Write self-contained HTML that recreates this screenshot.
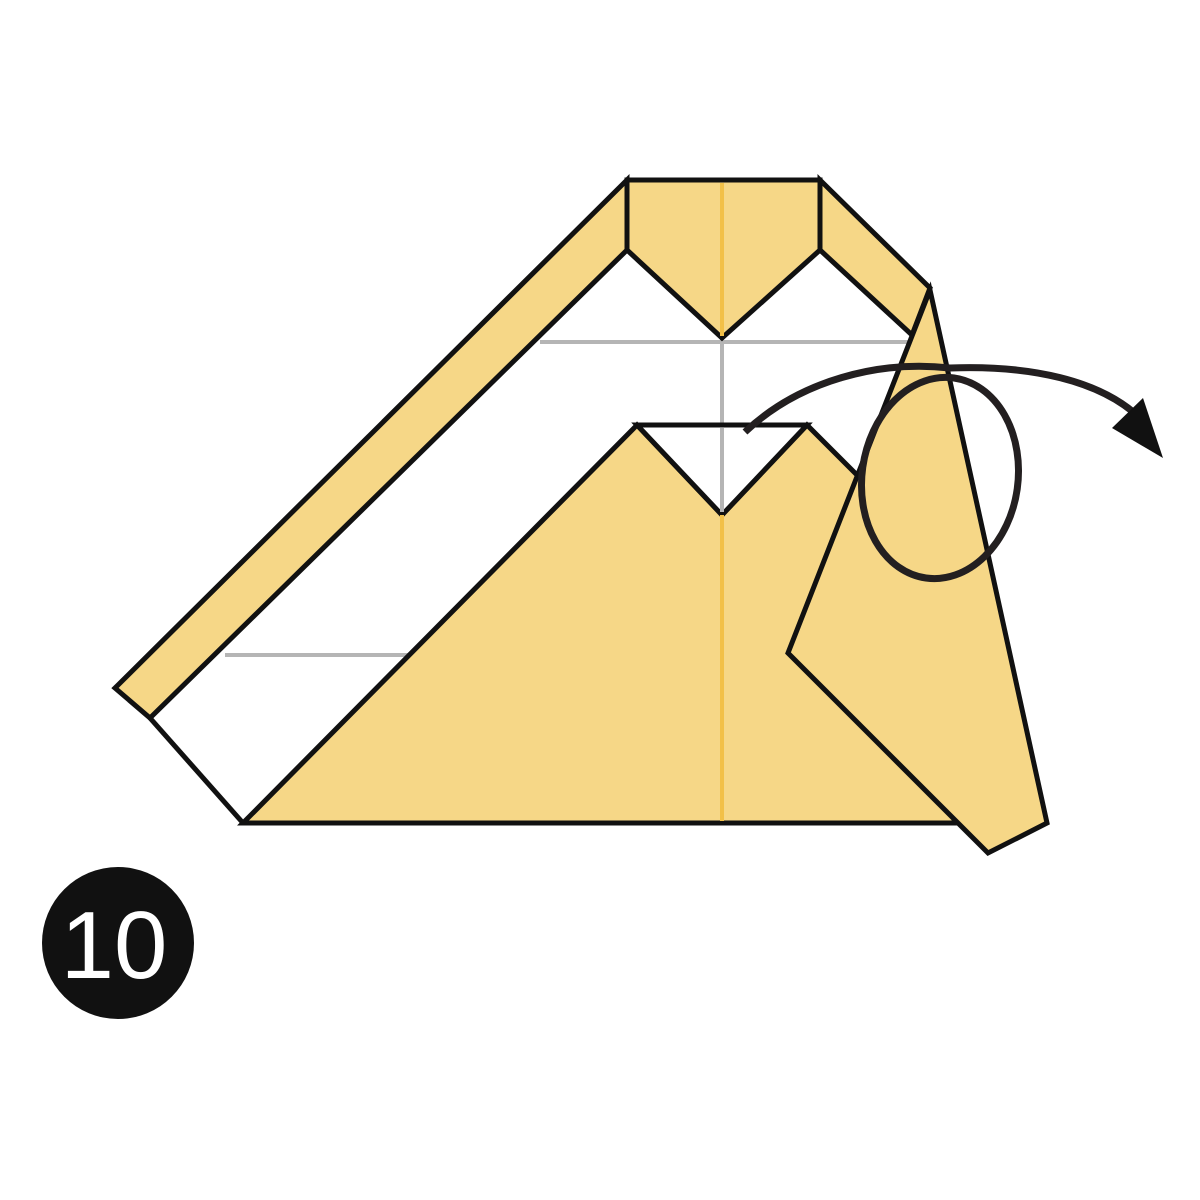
<!DOCTYPE html>
<html>
<head>
<meta charset="utf-8">
<style>
html,body{margin:0;padding:0;background:#fff;width:1200px;height:1200px;overflow:hidden}
svg{display:block}
</style>
</head>
<body>
<svg width="1200" height="1200" viewBox="0 0 1200 1200">
  <!-- white paper region between strip and triangle -->
  <polygon points="150,718 627,250 722,338 820,250 912,335 860,478 807,425 637,425 243,823" fill="#fff"/>
  <!-- gray crease lines -->
  <line x1="540" y1="342" x2="910" y2="342" stroke="#b5b5b5" stroke-width="4"/>
  <line x1="225" y1="655" x2="412" y2="655" stroke="#b5b5b5" stroke-width="4"/>
  <line x1="722" y1="338" x2="722" y2="425" stroke="#b5b5b5" stroke-width="4"/>
  <!-- left strip -->
  <polygon points="115,688 627,180 627,250 150,718" fill="#f6d787" stroke="#111" stroke-width="5" stroke-linejoin="miter"/>
  <!-- top center piece -->
  <polygon points="627,180 820,180 820,250 722,338 627,250" fill="#f6d787" stroke="#111" stroke-width="5"/>
  <line x1="722" y1="183" x2="722" y2="336" stroke="#f2c048" stroke-width="4"/>
  <!-- right strip -->
  <polygon points="820,180 930,288 912,335 820,250" fill="#f6d787" stroke="#111" stroke-width="5"/>
  <!-- bottom white edge -->
  <line x1="150" y1="718" x2="243" y2="823" stroke="#111" stroke-width="5"/>
  <!-- big triangle -->
  <polygon points="243,823 637,425 722,515 807,425 870,488 955,823" fill="#f6d787" stroke="#111" stroke-width="5"/>
  <polygon points="637,425 807,425 722,515" fill="#fff" stroke="#111" stroke-width="5"/>
  <line x1="722" y1="515" x2="722" y2="821" stroke="#f2c048" stroke-width="4"/>
  <line x1="722" y1="428" x2="722" y2="512" stroke="#b5b5b5" stroke-width="4"/>
  <!-- right flap -->
  <polygon points="930,290 1047,823 988,853 788,653" fill="#f6d787" stroke="#111" stroke-width="5" stroke-linejoin="miter"/>
  <!-- arrow curve -->
  <path d="M745,432 C800,380 880,360 950,368 C1030,365 1100,380 1140,418" fill="none" stroke="#231f20" stroke-width="7"/>
  <polygon points="1163,458 1112,428 1143,398" fill="#111"/>
  <!-- loop ellipse -->
  <ellipse cx="940" cy="478" rx="78" ry="101" transform="rotate(8 940 478)" fill="none" stroke="#231f20" stroke-width="7"/>
  <!-- step badge -->
  <circle cx="118" cy="943" r="76" fill="#111"/>
  <text x="114" y="978" text-anchor="middle" font-family="Liberation Sans, sans-serif" font-size="96" fill="#fff">10</text>
</svg>
</body>
</html>
